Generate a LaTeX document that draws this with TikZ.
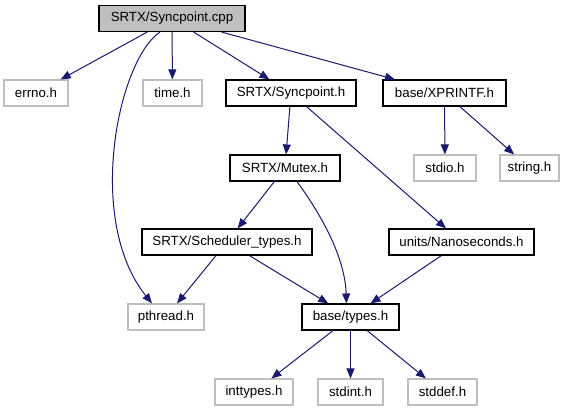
\documentclass[tikz,border=0pt]{standalone}
\usepackage{fontspec}
\setmainfont{Liberation Sans}
\usetikzlibrary{arrows.meta}
\definecolor{edgeblue}{HTML}{191970}
\definecolor{leafgray}{HTML}{BFBFBF}
\tikzset{
  box/.style={draw=black, line width=1.1pt, minimum height=26pt, inner sep=0pt, font=\fontsize{13.3}{16}\selectfont},
  leaf/.style={draw=leafgray, line width=1.1pt, minimum height=26pt, inner sep=0pt, font=\fontsize{13.3}{16}\selectfont},
  rootbox/.style={box, fill=leafgray},
  dep/.style={draw=edgeblue, line width=1pt, -{Triangle[length=10pt,width=8pt]}, color=edgeblue},
}
\begin{document}
\begin{tikzpicture}[x=1pt,y=-1pt]
\useasboundingbox (0,0) rectangle (571,411);
\node[rootbox, minimum width=146pt] (cpp) at (172,18.5) {SRTX/Syncpoint.cpp};
\node[leaf, minimum width=64pt] (errno) at (36,93) {errno.h};
\node[leaf, minimum width=59pt] (time) at (172.5,93) {time.h};
\node[box, minimum width=130pt] (sph) at (291,93) {SRTX/Syncpoint.h};
\node[box, minimum width=123pt] (xpr) at (444.5,93) {base/XPRINTF.h};
\node[leaf, minimum width=62pt] (stdio) at (445,168) {stdio.h};
\node[leaf, minimum width=59pt] (string) at (529.5,168) {string.h};
\node[box, minimum width=110pt] (mutex) at (285,168) {SRTX/Mutex.h};
\node[box, minimum width=170pt] (sched) at (227,242) {SRTX/Scheduler\_types.h};
\node[box, minimum width=145pt] (nano) at (461.5,242) {units/Nanoseconds.h};
\node[leaf, minimum width=76pt] (pthread) at (166,317) {pthread.h};
\node[box, minimum width=97pt] (types) at (350.5,317) {base/types.h};
\node[leaf, minimum width=78pt] (inttypes) at (254,392) {inttypes.h};
\node[leaf, minimum width=65pt] (stdint) at (350.5,392) {stdint.h};
\node[leaf, minimum width=69pt] (stddef) at (442.5,392) {stddef.h};

\draw[dep] (cpp) -- (errno);
\draw[dep] (cpp) -- (time);
\draw[dep] (cpp) -- (sph);
\draw[dep] (cpp) -- (xpr);
\draw[dep] ([xshift=-12pt]cpp.south) .. controls (118,60) and (85,220) .. ([xshift=-14pt]pthread.north);
\draw[dep] (sph) -- (mutex);
\draw[dep] (sph) -- (nano);
\draw[dep] (xpr) -- (stdio);
\draw[dep] (xpr) -- (string);
\draw[dep] (mutex) -- (sched);
\draw[dep] ([xshift=12pt]mutex.south) .. controls (325,220) and (345,260) .. ([xshift=-4pt]types.north);
\draw[dep] (sched) -- (pthread);
\draw[dep] (sched) -- (types);
\draw[dep] (nano) -- (types);
\draw[dep] (types) -- (inttypes);
\draw[dep] (types) -- (stdint);
\draw[dep] (types) -- (stddef);
\end{tikzpicture}
\end{document}
